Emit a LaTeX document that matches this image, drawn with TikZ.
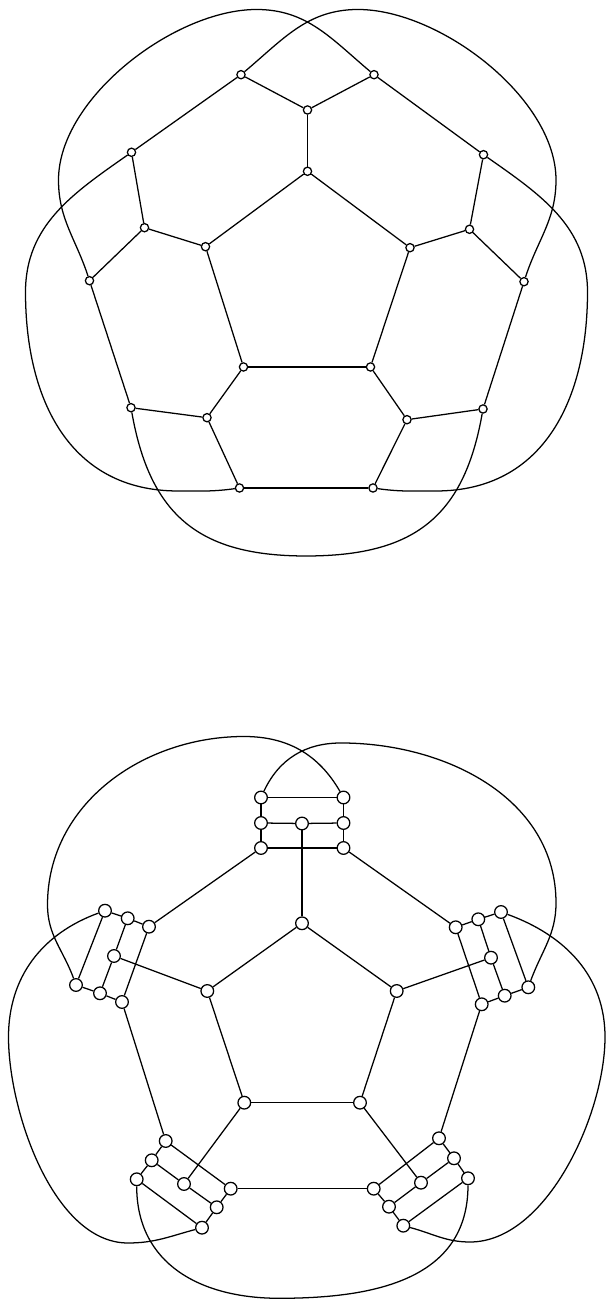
\documentclass[tikz,border=0pt]{standalone}
\usepackage{tikz}

\begin{document}
\begin{tikzpicture}[x=0.75pt,y=0.75pt,line width=0.95pt,
    knot/.style={circle,draw,fill=white,inner sep=0pt,minimum size=6.2pt},
    bigknot/.style={circle,draw,fill=white,inner sep=0pt,minimum size=9.5pt}]
    % 画布范围（与原图比例一致）
    \useasboundingbox (0,0) rectangle (607,1302);

    % ===== 上图：20 个顶点 =====
    \foreach \n/\x/\y in {ia/307.5/1130.7, ib/205.5/1055.3, ic/410/1054.3, id/243.5/935, ie/370.5/935,
        oa/307.5/1192, ob/241/1227.3, oc/374/1227.3, od/131.5/1149.7, oe/483.5/1147.3,
        of/144.5/1074.3, og/469.5/1072.7, oh/89.5/1021.3, oi/524/1020.3, oj/131/894.3,
        ok/207/884.3, ol/407/882.3, om/483/893, on/239.5/814, oo/373/814}
        \node[knot] (\n) at (\x,\y) {};

    % 上图：直边
    \foreach \a/\b in {oa/ob, oa/oc, oa/ia, ob/od, oc/oe, ia/ib, ia/ic, od/of, oe/og,
        of/ib, og/ic, of/oh, og/oi, ib/id, ic/ie, id/ie, id/ok, ie/ol, oh/oj, oi/om,
        oj/ok, om/ol, ok/on, ol/oo, on/oo}
        \draw (\a) -- (\b);

    % 上图：外侧曲线
    \draw (ob) to[out=40,in=180] (358,1292.5) to[out=0,in=90,looseness=0.8] (556,1122) to[out=-90,in=72] (oi);
    \draw (oc) to[out=140,in=0] (256.5,1292.5) to[out=180,in=90,looseness=0.8] (58.5,1122) to[out=-90,in=108] (oh);
    \draw (od) to[out=215,in=90] (25.5,1010) to[out=-90,in=180,looseness=1.1] (178,811) to[out=0,in=188] (on);
    \draw (oe) to[out=-35,in=90] (587.5,1010) to[out=-90,in=0,looseness=1.1] (436,811) to[out=180,in=-8] (oo);
    \draw (oj) to[out=-80,in=180,looseness=1.2] (306,746) to[out=0,in=-100,looseness=1.2] (om);

    % ===== 下图：40 个顶点 =====
    \foreach \n/\x/\y in {sa/261/504.5, sb/343.5/504.5, sc/261/479, sm/302/478.5, sd/343.5/479,
        se/261/454, sf/343.5/454,
        pa/302/378.7, pb/207.3/311, pc/396.7/311, pd/244.3/199.3, pe/360/199.3,
        la/105/391.3, lb/127.7/383.7, lc/149/375.3, ld/114/346, le/76/317, lf/100/308.7, lg/122/300,
        ra/501/390, rb/478.3/382.7, rc/455.7/374.7, rd/491/344.3, re/528.3/314.7, rf/504.7/306.3, rg/481.7/297.7,
        ma/165.7/161, mb/151.7/141.7, mc/136.7/122.7, md/184/118, me/230.7/113.3, mf/216.7/94.7, mg/202/74.3,
        na/439/163.7, nb/454/143.7, nc/468/123.7, nd/421/119.3, ne/373.7/113.3, nf/389/95.3, ng/403.3/76.3}
        \node[bigknot] (\n) at (\x,\y) {};

    % 下图：直边
    \foreach \a/\b in {sa/sb, sa/sc, sc/se, sb/sd, sd/sf, sc/sm, sm/sd, se/sf, sm/pa, se/lc, sf/rc,
        pa/pb, pa/pc, pb/pd, pc/pe, pd/pe, pb/ld, pc/rd, pd/md, pe/nd,
        la/lb, lb/lc, le/lf, lf/lg, la/le, lb/ld, ld/lf, lc/lg, lg/ma,
        ra/rb, rb/rc, re/rf, rf/rg, ra/re, rb/rd, rd/rf, rc/rg, rg/na,
        ma/mb, mb/mc, me/mf, mf/mg, ma/me, mb/md, md/mf, mc/mg, me/ne,
        na/nb, nb/nc, ne/nf, nf/ng, na/ne, nb/nd, nd/nf, nc/ng}
        \draw (\a) -- (\b);

    % 下图：外侧曲线
    \draw (sb) to[out=120,in=0] (244,565.5) to[out=180,in=90] (47.5,397) to[out=-90,in=110] (le);
    \draw (sa) to[out=65,in=180] (341,559) to[out=0,in=90] (556,399) to[out=-90,in=70] (re);
    \draw (la) to[out=200,in=90] (8.5,265) to[out=-90,in=180,looseness=0.8] (128,59) to[out=0,in=195] (mg);
    \draw (ra) to[out=-20,in=90] (605,265) to[out=-90,in=0,looseness=0.8] (470,60) to[out=180,in=-15] (ng);
    \draw (mc) to[out=-90,in=180,looseness=1.1] (279,3.7) to[out=0,in=-90,looseness=1.1] (nc);
\end{tikzpicture}
\end{document}
